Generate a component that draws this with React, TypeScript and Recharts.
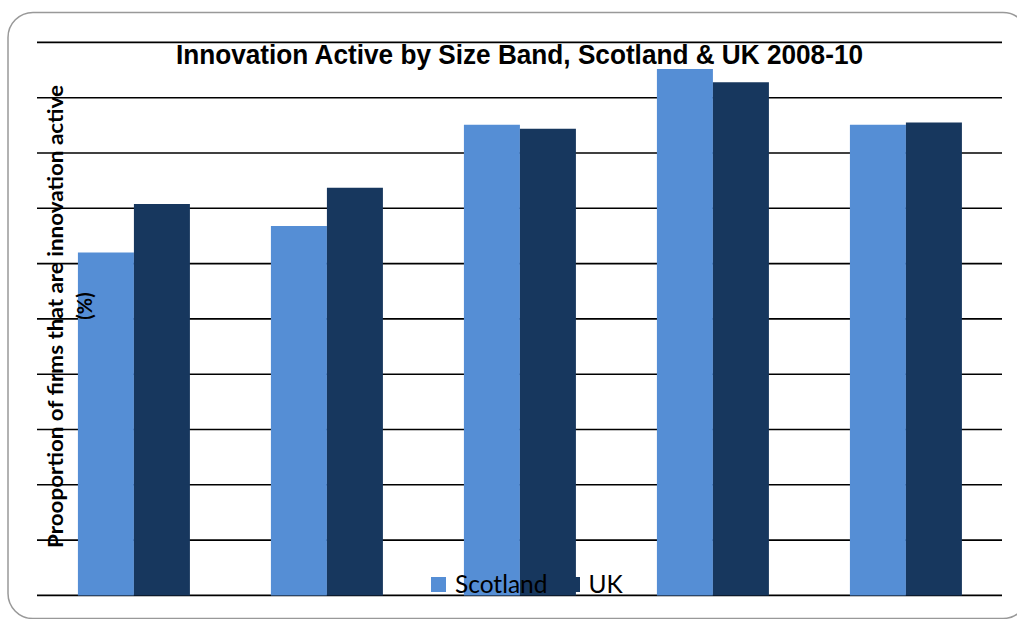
import React from "react";
import { BarChart, Bar, XAxis, YAxis, CartesianGrid, Legend, Customized } from "recharts";

const sizeBands = ["0-9", "10-49", "50-249", "250+", "All"];
const scotlandValues = [62.0, 66.8, 85.1, 95.2, 85.1];
const ukValues = [70.8, 73.7, 84.4, 92.8, 85.5];
const yTicks = [0, 10, 20, 30, 40, 50, 60, 70, 80, 90, 100];
const titleText = "Innovation Active by Size Band, Scotland & UK 2008-10";
const yLabelLine1 = "Prooportion of firms that are innovation active";
const yLabelLine2 = "(%)";

const SCOT = "#558ED5";
const UK = "#17375E";

const data = sizeBands.map((band, i) => ({
  band,
  Scotland: scotlandValues[i],
  UK: ukValues[i],
}));

const Frame = () => (
  <rect x={8} y={12.5} width={1020} height={606} rx={25} ry={25} fill="none" stroke="#999" strokeWidth={1.5} />
);

const Overlay = () => (
  <svg
    width={1017}
    height={619}
    style={{ position: "absolute", left: 0, top: 0, pointerEvents: "none" }}
  >
    <text
      x={176}
      y={63.5}
      fontFamily="'Liberation Sans', Arial, sans-serif"
      fontWeight="bold"
      fontSize={28}
      fill="#000"
      textLength={687}
      lengthAdjust="spacingAndGlyphs"
    >
      {titleText}
    </text>
    <text
      transform="translate(63,548) rotate(-90)"
      x={0}
      y={0}
      fontFamily="Lato, 'Open Sans', sans-serif"
      fontWeight="bold"
      fontSize={20}
      fill="#000"
      textLength={463}
      lengthAdjust="spacingAndGlyphs"
    >
      {yLabelLine1}
    </text>
    <text
      transform="translate(92,306) rotate(-90)"
      x={0}
      y={0}
      textAnchor="middle"
      fontFamily="Lato, 'Open Sans', sans-serif"
      fontWeight="bold"
      fontSize={20}
      fill="#000"
    >
      {yLabelLine2}
    </text>
  </svg>
);

const LegendContent = (props: any) => {
  const payload = props.payload || [];
  return (
    <div style={{ display: "flex", alignItems: "center", fontFamily: "Lato, 'Open Sans', sans-serif", fontSize: 24.5, color: "#000", lineHeight: "30px" }}>
      {payload.map((p: any, i: number) => (
        <div key={i} style={{ display: "flex", alignItems: "center", marginRight: i === 0 ? 17 : 0 }}>
          <span style={{ display: "inline-block", width: 15, height: 15, background: p.color, marginRight: 9 }} />
          <span>{p.value}</span>
        </div>
      ))}
    </div>
  );
};

export default function App() {
  return (
    <div style={{ position: "absolute", left: 0, top: 0, width: 1017, height: 619, background: "#fff" }}>
      <BarChart
        width={1017}
        height={619}
        data={data}
        margin={{ top: 42.4, right: 15, bottom: 23.6, left: 37 }}
        barCategoryGap="21.2%"
        barGap={0}
      >
        <CartesianGrid vertical={false} stroke="#000" strokeWidth={1.6} />
        <XAxis dataKey="band" hide />
        <YAxis hide domain={[0, 100]} ticks={yTicks} />
        <Bar dataKey="Scotland" fill={SCOT} isAnimationActive={false} />
        <Bar dataKey="UK" fill={UK} isAnimationActive={false} />
        <Customized component={Frame} />
        <Legend
          layout="horizontal"
          verticalAlign="middle"
          align="center"
          content={<LegendContent />}
          wrapperStyle={{ position: "absolute", left: 431, top: 569, width: 230, height: 30 }}
        />
      </BarChart>
      <Overlay />
    </div>
  );
}
